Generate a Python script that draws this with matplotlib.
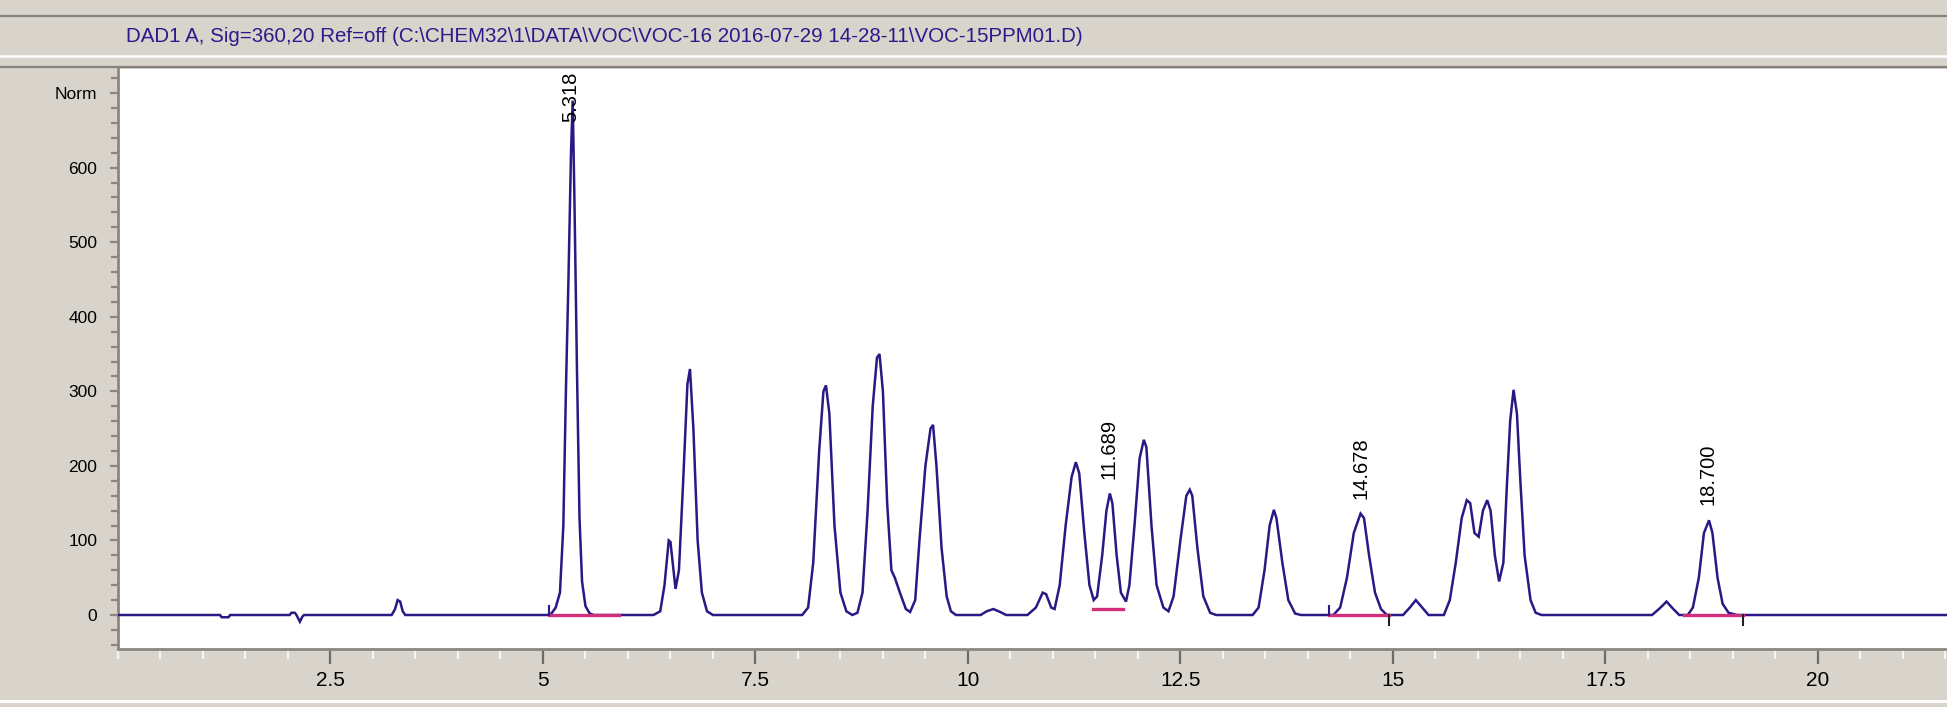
import matplotlib
matplotlib.use("Agg")
import matplotlib.pyplot as plt
from matplotlib.lines import Line2D
from matplotlib.ticker import MultipleLocator, FixedLocator, FixedFormatter

# ---------------- data ----------------
time_min = [
    0.00, 1.20, 1.22, 1.30, 1.32, 2.02, 2.04, 2.08, 2.10, 2.14, 2.17, 2.19,
    3.22, 3.26, 3.29, 3.32, 3.35, 3.38,
    5.05, 5.10, 5.15, 5.20, 5.24, 5.27, 5.30, 5.33, 5.35, 5.37, 5.40, 5.43, 5.46, 5.50, 5.55, 5.60,
    6.30, 6.38, 6.43, 6.48, 6.50, 6.56, 6.60, 6.65, 6.70, 6.73, 6.77, 6.82, 6.87, 6.93, 7.00,
    8.05, 8.12, 8.18, 8.25, 8.30, 8.33, 8.37, 8.43, 8.50, 8.57, 8.64,
    8.70, 8.76, 8.82, 8.88, 8.93, 8.96, 9.00, 9.05, 9.10, 9.14, 9.20, 9.27, 9.32,
    9.38, 9.43, 9.50, 9.56, 9.59, 9.63, 9.69, 9.75, 9.80, 9.86,
    10.15, 10.22, 10.30, 10.38, 10.45,
    10.70, 10.80, 10.88, 10.92, 10.98, 11.02,
    11.08, 11.15, 11.22, 11.27, 11.31, 11.37, 11.43, 11.48,
    11.52, 11.58, 11.63, 11.67, 11.70, 11.75, 11.80, 11.86,
    11.90, 11.96, 12.02, 12.07, 12.10, 12.16, 12.22, 12.30, 12.36,
    12.42, 12.50, 12.57, 12.61, 12.64, 12.70, 12.77, 12.85, 12.92,
    13.35, 13.42, 13.49, 13.55, 13.60, 13.63, 13.70, 13.77, 13.85, 13.92,
    14.30, 14.38, 14.46, 14.54, 14.62, 14.66, 14.72, 14.79, 14.86, 14.93,
    15.12, 15.20, 15.27, 15.33, 15.42,
    15.60, 15.67, 15.74, 15.81, 15.87, 15.91, 15.96, 16.01, 16.06, 16.11, 16.15, 16.20, 16.25,
    16.30, 16.34, 16.38, 16.42, 16.46, 16.50, 16.55, 16.62, 16.68, 16.75,
    18.05, 18.15, 18.22, 18.30, 18.37,
    18.47, 18.53, 18.60, 18.66, 18.72, 18.76, 18.82, 18.88, 18.95, 19.05,
    21.60,
]
signal_norm = [
    0, 0, -3, -3, 0, 0, 3, 3, 0, -9, -2, 0,
    0, 8, 20, 18, 5, 0,
    0, 2, 10, 30, 120, 300, 450, 620, 690, 560, 330, 130, 45, 12, 2, 0,
    0, 5, 40, 100, 98, 35, 60, 180, 310, 330, 250, 100, 30, 5, 0,
    0, 10, 70, 220, 300, 308, 270, 120, 30, 5, 0,
    3, 30, 140, 280, 345, 350, 300, 150, 60, 50, 30, 8, 4,
    20, 100, 200, 250, 255, 200, 90, 25, 5, 0,
    0, 5, 8, 4, 0,
    0, 10, 30, 28, 10, 8,
    40, 120, 185, 205, 190, 110, 40, 20,
    25, 80, 140, 163, 150, 80, 30, 18,
    40, 120, 210, 235, 225, 120, 40, 10, 5,
    25, 100, 160, 168, 160, 90, 25, 3, 0,
    0, 10, 60, 120, 141, 130, 70, 20, 2, 0,
    0, 10, 50, 110, 136, 130, 80, 30, 8, 0,
    0, 10, 20, 12, 0,
    0, 20, 70, 130, 154, 150, 110, 105, 140, 154, 140, 80, 45,
    70, 170, 260, 302, 270, 180, 80, 20, 3, 0,
    0, 10, 18, 8, 0,
    0, 10, 50, 110, 127, 110, 50, 15, 3, 0,
    0,
]

peak_labels = ["5.318", "11.689", "14.678", "18.700"]
peak_label_rt = [5.33, 11.66, 14.63, 18.71]
peak_label_height = [None, 163, 136, 127]

integ_start = [5.07, 11.47, 14.25, 18.42]
integ_end = [5.90, 11.83, 14.95, 19.12]
integ_level = [0, 8, 0, 0]

x_major_ticks = [2.5, 5, 7.5, 10, 12.5, 15, 17.5, 20]
x_major_labels = ["2.5", "5", "7.5", "10", "12.5", "15", "17.5", "20"]
y_major_ticks = [0, 100, 200, 300, 400, 500, 600, 700]
y_major_labels = ["0", "100", "200", "300", "400", "500", "600", "Norm"]

title_text = ("DAD1 A, Sig=360,20 Ref=off (C:\\CHEM32\\1\\DATA\\VOC\\VOC-16 "
              "2016-07-29 14-28-11\\VOC-15PPM01.D)")

# ---------------- figure ----------------
W, H = 1947, 707
BG = "#d8d4cb"
TRACE = "#2c1884"
PINK = "#d0307a"

fig = plt.figure(figsize=(W / 100, H / 100), dpi=100, facecolor=BG)

def fy(px):
    return 1 - px / H

# header lines
fig.add_artist(Line2D([0, 1], [fy(16), fy(16)], color="#85827b", lw=1.6))
fig.add_artist(Line2D([0, 1], [fy(55.5), fy(55.5)], color="white", lw=1.8))
fig.add_artist(Line2D([0, 1], [fy(67), fy(67)], color="#85827b", lw=1.6))
# bottom white line
fig.add_artist(Line2D([0, 1], [fy(700.5), fy(700.5)], color="white", lw=2.2))

fig.text(126 / W, fy(36.5), title_text, color="#2a1a8c", fontsize=14.8,
         family="Liberation Sans", ha="left", va="center")

left_px, right_px, top_px, bot_px = 118, 1947, 68.5, 649
ax = fig.add_axes([left_px / W, fy(bot_px), (right_px - left_px) / W,
                   (bot_px - top_px) / H])
ax.set_facecolor("white")

ax.plot(time_min, signal_norm, color=TRACE, lw=1.8, solid_joinstyle="miter", zorder=3)

for s, e, lv in zip(integ_start, integ_end, integ_level):
    ax.plot([s, e], [lv, lv], color=PINK, lw=2.4, zorder=4)
# integration start / end marks
for s in integ_start[::2]:
    ax.plot([s, s], [0, 12], color=TRACE, lw=1.5, zorder=4)
for e in integ_end[2:]:
    ax.plot([e, e], [0, -14], color="#202020", lw=1.5, zorder=4)

ax.set_xlim(0, 21.52)
ax.set_ylim(-45.6, 733)

for lab, rt, hgt in zip(peak_labels, peak_label_rt, peak_label_height):
    if hgt is None:
        ax.text(rt, 729, lab, rotation=90, ha="center", va="top",
                fontsize=14.5, family="Liberation Sans", color="black", zorder=5)
    else:
        ax.text(rt, hgt + 20, lab, rotation=90, ha="center", va="bottom",
                fontsize=14.5, family="Liberation Sans", color="black", zorder=5)

for side in ("top", "right"):
    ax.spines[side].set_visible(False)
for side in ("left", "bottom"):
    ax.spines[side].set_color("#8a8780")
    ax.spines[side].set_linewidth(2)

ax.xaxis.set_major_locator(FixedLocator(x_major_ticks))
ax.xaxis.set_major_formatter(FixedFormatter(x_major_labels))
ax.xaxis.set_minor_locator(MultipleLocator(0.5))
ax.yaxis.set_major_locator(FixedLocator(y_major_ticks))
ax.yaxis.set_major_formatter(FixedFormatter(y_major_labels))
ax.yaxis.set_minor_locator(MultipleLocator(20))

ax.tick_params(axis="x", which="major", direction="out", length=11, width=1.6,
               color="#6e6b66", labelsize=15, pad=5, labelcolor="black")
ax.tick_params(axis="x", which="minor", direction="out", length=7, width=1.6,
               color="#f4f4f4")
ax.tick_params(axis="y", which="major", direction="out", length=6, width=1.6,
               color="#8a8780", labelsize=12.5, pad=9, labelcolor="black")
ax.tick_params(axis="y", which="minor", direction="out", length=5, width=1.6,
               color="#8a8780")
for lbl in ax.get_xticklabels() + ax.get_yticklabels():
    lbl.set_family("Liberation Sans")

fig.savefig("out.png", dpi=100, facecolor=BG)
